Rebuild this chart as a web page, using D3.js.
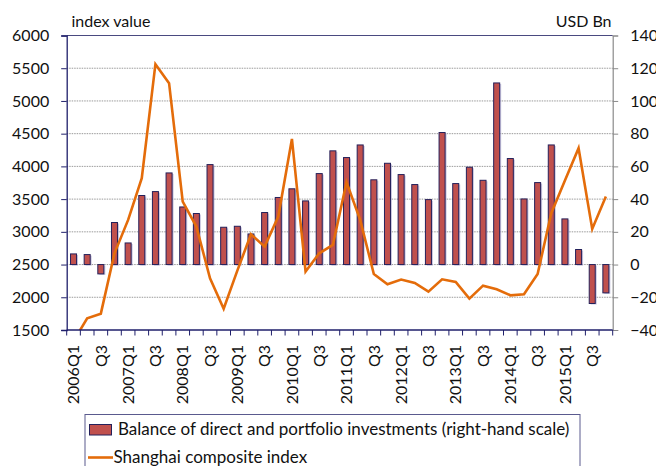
<!DOCTYPE html>
<html><head><meta charset="utf-8">
<script src="https://cdn.jsdelivr.net/npm/d3@7"></script>
<style>
html,body{margin:0;padding:0;background:#fff;}
svg{display:block;font-family:Lato,"Open Sans",sans-serif;}
</style></head>
<body>
<svg id="c" width="656" height="466"></svg>
<script>
const categories = [];
for (let y = 2006; y <= 2015; y++) for (let q = 1; q <= 4; q++) categories.push(y + "Q" + q);

const balance = [6.5, 6.1, -5.7, 25.7, 13.2, 42.2, 44.6, 56.0, 35.2, 31.2,
  61.1, 22.8, 23.4, 18.7, 31.8, 41.0, 46.3, 38.9, 55.6, 69.5,
  65.4, 73.1, 51.8, 61.9, 55.0, 48.9, 39.7, 80.7, 49.5, 59.5,
  51.5, 111.0, 64.8, 40.1, 50.1, 73.1, 27.9, 9.2, -23.8, -17.3];

const shanghai = [1330, 1679, 1750, 2672, 3182, 3819, 5562, 5271, 3462, 3080,
  2290, 1826, 2407, 2963, 2774, 3233, 4420, 2392, 2672, 2800,
  3758, 3182, 2356, 2198, 2270, 2219, 2086, 2275, 2234, 1979,
  2178, 2122, 2030, 2046, 2356, 3284, 3783, 4278, 3044, 3539];

const leftTicks = [1500, 2000, 2500, 3000, 3500, 4000, 4500, 5000, 5500, 6000];
const rightTicks = [-40, -20, 0, 20, 40, 60, 80, 100, 120, 140];
const xTickLabels = categories.map((c, i) => i % 4 === 0 ? c : (i % 4 === 2 ? "Q3" : ""));

const seriesNames = ["Balance of direct and portfolio investments (right-hand scale)", "Shanghai composite index"];

const L = 66.7, R = 612.7, T = 35.5, B = 330;
const svg = d3.select("#c");

const x = d3.scaleBand().domain(categories).range([L, R]).padding(0);
const yL = d3.scaleLinear().domain([1500, 6000]).range([B, T]);
const yR = d3.scaleLinear().domain([-40, 140]).range([B, T]);

// gridlines
svg.append("g").selectAll("line").data(leftTicks.filter(t => t > 1500 && t < 6000)).join("line")
  .attr("x1", L).attr("x2", R).attr("y1", d => yL(d)).attr("y2", d => yL(d))
  .attr("stroke", "#9a9a9a").attr("stroke-width", 1).attr("stroke-dasharray", "1.5,1");
svg.append("line").attr("x1", L).attr("x2", R).attr("y1", yL(6000)).attr("y2", yL(6000))
  .attr("stroke", "#4a4a80").attr("stroke-width", 1.2);

// bars
const barW = x.bandwidth() * 0.44;
const bars = svg.append("g");
bars.selectAll("rect.sh").data(balance).join("rect").attr("class", "sh")
  .attr("x", (d, i) => x(categories[i]) + (x.bandwidth() - barW) / 2 + 1.5)
  .attr("y", d => Math.min(yR(d), yR(0)) + 1)
  .attr("width", barW).attr("height", d => Math.abs(yR(d) - yR(0)))
  .attr("fill", "#9c96c4").attr("opacity", 0.55);
bars.selectAll("rect.b").data(balance).join("rect").attr("class", "b")
  .attr("x", (d, i) => x(categories[i]) + (x.bandwidth() - barW) / 2)
  .attr("y", d => Math.min(yR(d), yR(0)))
  .attr("width", barW).attr("height", d => Math.abs(yR(d) - yR(0)))
  .attr("fill", "#C0504D").attr("stroke", "#24205a").attr("stroke-width", 1);

// line
svg.append("clipPath").attr("id", "pc").append("rect").attr("x", L).attr("y", T - 5).attr("width", R - L).attr("height", B - T + 5);
svg.append("path").datum(shanghai).attr("clip-path", "url(#pc)")
  .attr("d", d3.line().x((d, i) => x(categories[i]) + x.bandwidth() / 2).y(d => yL(d)))
  .attr("fill", "none").attr("stroke", "#E46C0A").attr("stroke-width", 2.6).attr("stroke-linejoin", "miter");

// left axis
const axL = svg.append("g").attr("transform", `translate(${L},0)`)
  .call(d3.axisLeft(yL).tickValues(leftTicks).tickSize(5.5).tickPadding(12).tickFormat(d3.format("d")));
axL.select(".domain").attr("stroke", "#1f1f6b").attr("stroke-width", 1.3);
axL.selectAll(".tick line").attr("stroke", "#1f1f6b");
axL.selectAll("text").attr("font-size", 16).attr("fill", "#111").attr("font-family", "Lato");

// right axis
const axR = svg.append("g").attr("transform", `translate(${R},0)`)
  .call(d3.axisRight(yR).tickValues(rightTicks).tickSize(5.5).tickPadding(12));
axR.select(".domain").attr("stroke", "#8a8a8a").attr("stroke-width", 1.2);
axR.selectAll(".tick line").attr("stroke", "#8a8a8a");
axR.selectAll("text").attr("font-size", 16).attr("fill", "#111").attr("font-family", "Lato");

// bottom axis
const axB = svg.append("g").attr("transform", `translate(0,${B})`);
axB.append("line").attr("x1", L).attr("x2", R).attr("stroke", "#1f1f6b").attr("stroke-width", 1.3);
axB.selectAll("line.t").data(d3.range(categories.length + 1)).join("line").attr("class", "t")
  .attr("x1", i => L + i * x.step()).attr("x2", i => L + i * x.step())
  .attr("y1", 0).attr("y2", 5.5).attr("stroke", "#1f1f6b").attr("stroke-width", 1);
axB.selectAll("text").data(categories).join("text")
  .attr("transform", (c) => `translate(${x(c) + x.bandwidth() / 2},15) rotate(-90)`)
  .attr("text-anchor", "end").attr("dy", "0.36em")
  .attr("font-size", 16).attr("fill", "#111")
  .text((c, i) => xTickLabels[i]);

// axis titles
svg.append("text").attr("x", 71.5).attr("y", 27).attr("font-size", 16).attr("fill", "#111").text("index value");
svg.append("text").attr("x", 611.5).attr("y", 27).attr("text-anchor", "end").attr("font-size", 16).attr("fill", "#111").text("USD Bn");

// legend
const lg = svg.append("g");
lg.append("rect").attr("x", 85).attr("y", 414.5).attr("width", 495).attr("height", 70)
  .attr("fill", "#fff").attr("stroke", "#5a5a8e").attr("stroke-width", 1);
lg.append("rect").attr("x", 89.5).attr("y", 424.5).attr("width", 22).attr("height", 10.5)
  .attr("fill", "#C0504D").attr("stroke", "#24205a").attr("stroke-width", 1);
lg.append("text").attr("x", 118).attr("y", 435).attr("font-size", 17).attr("fill", "#111").text(seriesNames[0]);
lg.append("line").attr("x1", 88).attr("x2", 113).attr("y1", 457.5).attr("y2", 457.5)
  .attr("stroke", "#E46C0A").attr("stroke-width", 2.6);
lg.append("text").attr("x", 113.5).attr("y", 463).attr("font-size", 17).attr("fill", "#111").text(seriesNames[1]);
</script>
</body></html>
